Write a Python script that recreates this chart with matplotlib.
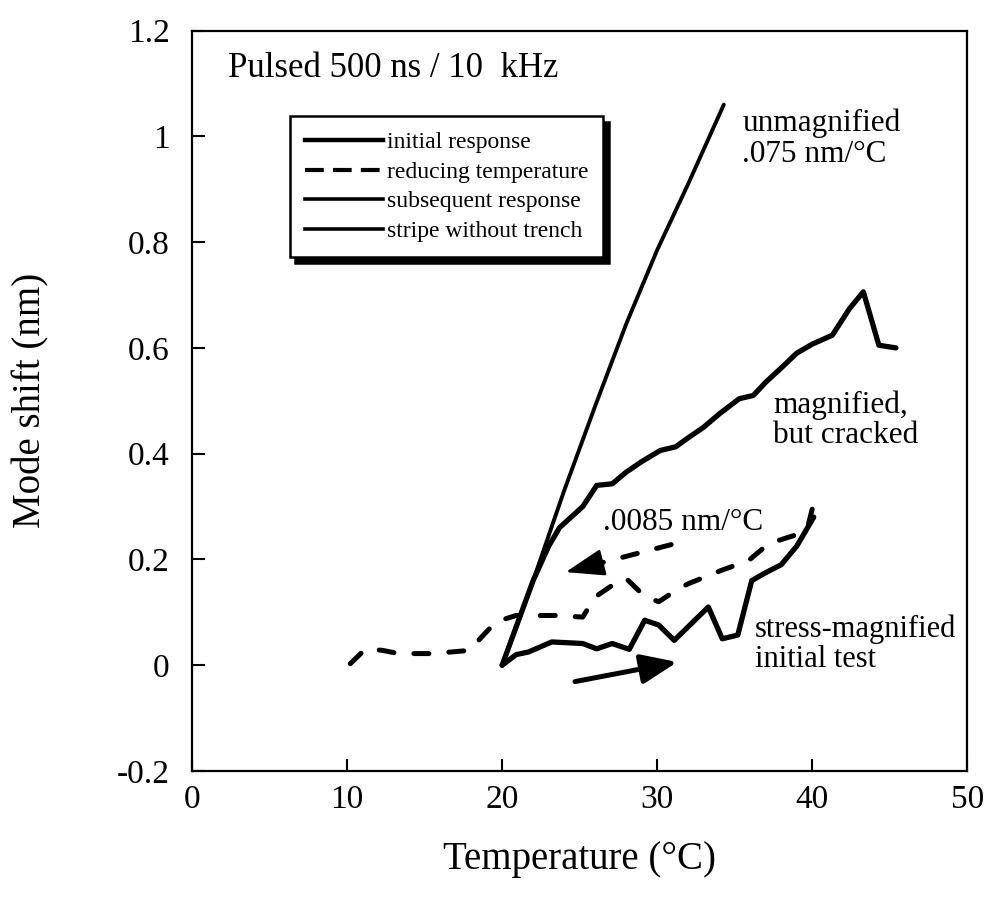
import matplotlib
matplotlib.use("Agg")
import matplotlib.pyplot as plt
from matplotlib.lines import Line2D

plt.rcParams['font.family'] = ['Liberation Serif', 'DejaVu Serif']

# --- datos ---
# stripe without trench (recta, .075 nm/C)
stripe_x = [20, 22, 24, 26, 28, 30, 32, 34.3]
stripe_y = [0, 0.16, 0.33, 0.49, 0.645, 0.785, 0.91, 1.06]

# subsequent response (magnified, but cracked)
sub_x = [20, 21, 22, 23, 23.7, 25.2, 26.1, 27.1, 28, 29, 30.2, 31.2, 32, 33, 34,
         35.3, 36.2, 37, 38, 39, 40, 41.3, 42.4, 43.3, 44.3, 45.4]
sub_y = [0, 0.08, 0.16, 0.225, 0.26, 0.30, 0.34, 0.343, 0.365, 0.385, 0.406, 0.413,
         0.43, 0.45, 0.475, 0.504, 0.51, 0.535, 0.562, 0.59, 0.607, 0.624, 0.674,
         0.706, 0.605, 0.60]

# initial response (stress-magnified initial test)
init_x = [20, 20.9, 21.7, 23.2, 25.2, 26.1, 27.1, 28.2, 29.2, 30.1, 31.1, 33.3,
          34.2, 35.2, 36.1, 37, 38, 39, 40.1]
init_y = [0, 0.02, 0.025, 0.044, 0.041, 0.031, 0.041, 0.03, 0.085, 0.076, 0.047,
          0.11, 0.05, 0.057, 0.16, 0.175, 0.19, 0.225, 0.28]

# reducing temperature (discontinua)
red_x = [40, 39.7, 38.8, 37.2, 35.9, 34.2, 32.0, 31.4, 30.1, 29.2, 28.0, 27.1,
         26.0, 25.2, 23.4, 20.9, 19.6, 18.7, 17.9, 15.5, 13.3, 12.3, 11.2, 10.1]
red_y = [0.295, 0.26, 0.245, 0.23, 0.198, 0.18, 0.154, 0.145, 0.12, 0.13, 0.164,
         0.151, 0.129, 0.091, 0.094, 0.094, 0.082, 0.054, 0.028, 0.022, 0.022,
         0.028, 0.031, 0.0]

legend_labels = ["initial response", "reducing temperature",
                 "subsequent response", "stripe without trench"]
xticks = [0, 10, 20, 30, 40, 50]
yticks = [-0.2, 0, 0.2, 0.4, 0.6, 0.8, 1.0, 1.2]
ytick_labels = ["-0.2", "0", "0.2", "0.4", "0.6", "0.8", "1", "1.2"]

fig = plt.figure(figsize=(9.9, 8.99), dpi=100)
ax = fig.add_axes([0.194, 0.1424, 0.783, 0.8236])

ax.plot(stripe_x, stripe_y, color='k', lw=2.8, solid_capstyle='round')
ax.plot(sub_x, sub_y, color='k', lw=3.8, solid_capstyle='round', solid_joinstyle='round')
ax.plot(init_x, init_y, color='k', lw=3.8, solid_capstyle='round', solid_joinstyle='round')
ax.plot(red_x, red_y, color='k', lw=3.6, dashes=(3.0, 4.0),
        dash_capstyle='round', dash_joinstyle='round')

# flechas
ax.annotate('', xy=(24.1, 0.176), xytext=(30.9, 0.228),
            arrowprops=dict(arrowstyle='-', color='k', lw=3.6, linestyle=(0, (3.0, 4.0)),
                            capstyle='round', shrinkA=0, shrinkB=12))
ax.annotate('', xy=(24.1, 0.176), xytext=(26.2, 0.192),
            arrowprops=dict(arrowstyle='-|>,head_length=1.2,head_width=0.42', color='k',
                            lw=2, mutation_scale=20, shrinkA=0, shrinkB=0))
ax.annotate('', xy=(31.3, 0.006), xytext=(24.7, -0.031),
            arrowprops=dict(arrowstyle='-|>,head_length=1.1,head_width=0.45', color='k',
                            lw=3.6, mutation_scale=20, shrinkA=0, shrinkB=0))

# textos
ax.text(2.3, 1.129, "Pulsed 500 ns / 10  kHz", fontsize=25, va='center', ha='left')
ax.text(35.5, 0.995, "unmagnified\n.075 nm/°C", fontsize=22.5, va='center', ha='left',
        linespacing=1.1)
ax.text(37.5, 0.464, "magnified,\nbut cracked", fontsize=22.5, va='center', ha='left',
        linespacing=1.05)
ax.text(26.5, 0.27, ".0085 nm/°C", fontsize=22.5, va='center', ha='left')
ax.text(36.3, 0.04, "stress-magnified\ninitial test", fontsize=22, va='center', ha='left',
        linespacing=1.05)

handles = [Line2D([], [], color='k', lw=3.2),
           Line2D([], [], color='k', lw=3.0, dashes=(4.5, 2.2)),
           Line2D([], [], color='k', lw=2.6),
           Line2D([], [], color='k', lw=2.6)]
leg = ax.legend(handles, legend_labels, loc='upper left', bbox_to_anchor=(0.126, 0.884),
                borderaxespad=0, fontsize=17, handlelength=3.3, handletextpad=0.15,
                labelspacing=0.34, borderpad=0.65, fancybox=False, framealpha=1,
                edgecolor='k', shadow={'ox': 4, 'oy': -4, 'color': 'k', 'alpha': 1})
leg.get_frame().set_linewidth(1.8)

ax.set_xlim(0, 50)
ax.set_ylim(-0.2, 1.2)
ax.set_xticks(xticks)
ax.set_yticks(yticks)
ax.set_yticklabels(ytick_labels)
ax.tick_params(direction='in', length=9, width=1.5, labelsize=24)
ax.tick_params(axis='x', pad=10)
ax.tick_params(axis='y', pad=16)
for s in ax.spines.values():
    s.set_linewidth(1.6)

ax.set_xlabel("Temperature (°C)", fontsize=28)
ax.set_ylabel("Mode shift (nm)", fontsize=28)
ax.xaxis.set_label_coords(0.5, -0.095)
ax.yaxis.set_label_coords(-0.184, 0.5)

fig.savefig("out.png", dpi=100)
